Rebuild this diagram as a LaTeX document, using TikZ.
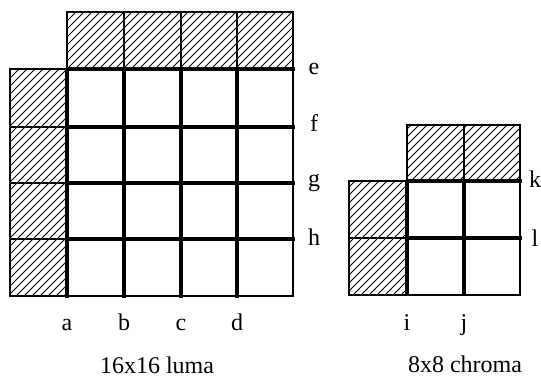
\documentclass[tikz,border=0pt]{standalone}
\usepackage{fontspec}
\setmainfont{Liberation Serif}
\newcommand\hatchrect[4]{%
  \begin{scope}
    \clip (#1,#2) rectangle (#3,#4);
    \foreach \c in {0,8,...,900}{
      \draw[hatchline] (\c-#4,#4) -- (\c-#2,#2);
    }
  \end{scope}}
\begin{document}
\begin{tikzpicture}[x=1pt,y=-1pt,
  thinline/.style={line width=1.2pt},
  heavy/.style={line width=3.5pt},
  hatchline/.style={line width=1pt},
  lbl/.style={font=\fontsize{24}{26}\selectfont, inner sep=0pt, anchor=base}]
\useasboundingbox (0,0) rectangle (541,377);
% ---------- luma ----------
\hatchrect{67}{12}{293}{69}
\hatchrect{10}{69}{67}{296}
% thin cell borders
\draw[thinline] (67,12) rectangle (293,69);
\foreach \x in {124,181,237} \draw[thinline] (\x,12) -- (\x,69);
\draw[thinline] (10,69) rectangle (67,296);
\foreach \y in {127,183,239} \draw[thinline] (10,\y) -- (67,\y);
\draw[thinline] (67,296) -- (293,296) -- (293,69);
% heavy lines
\foreach \y in {69,127,183,239} \draw[heavy] (67,\y) -- (295,\y);
\foreach \x in {67,124,181,237} \draw[heavy] (\x,69) -- (\x,298);
% labels
\node[lbl] (e) at (314,75) {e};
\node[lbl] (f) at (314,132) {f};
\node[lbl] (g) at (314,186) {g};
\node[lbl] (h) at (314,245) {h};
\node[lbl] (a) at (67,330) {a};
\node[lbl] (b) at (124,330) {b};
\node[lbl] (c) at (181,330) {c};
\node[lbl] (d) at (237,330) {d};
\node[lbl] (luma) at (157,373) {16x16 luma};
% ---------- chroma ----------
\hatchrect{407}{125}{520}{181}
\hatchrect{349}{181}{407}{295}
\draw[thinline] (407,125) rectangle (520,181);
\draw[thinline] (464,125) -- (464,181);
\draw[thinline] (349,181) rectangle (407,295);
\draw[thinline] (349,238) -- (407,238);
\draw[thinline] (407,295) -- (520,295) -- (520,181);
\foreach \y in {181,238} \draw[heavy] (407,\y) -- (522,\y);
\foreach \x in {407,464} \draw[heavy] (\x,181) -- (\x,296);
\node[lbl] (k) at (535,187) {k};
\node[lbl] (l) at (535,246) {l};
\node[lbl] (i) at (407,330) {i};
\node[lbl] (j) at (464,330) {j};
\node[lbl] (chroma) at (465,372) {8x8 chroma};
\end{tikzpicture}
\end{document}
